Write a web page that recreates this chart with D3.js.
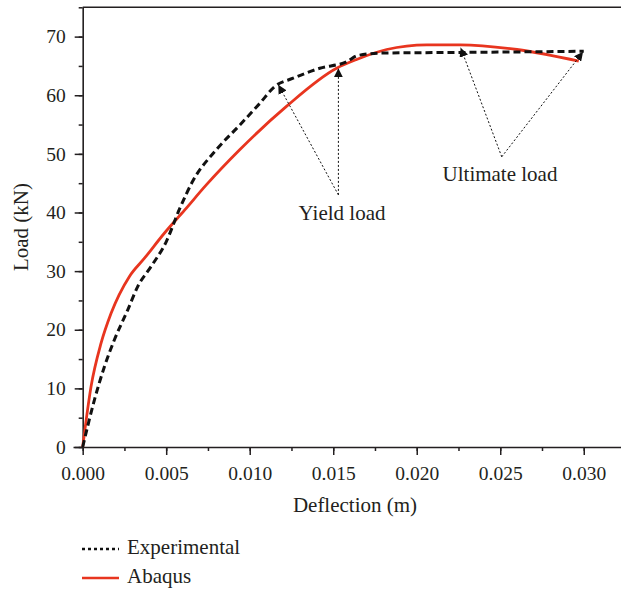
<!DOCTYPE html>
<html><head><meta charset="utf-8">
<script src="https://cdn.jsdelivr.net/npm/d3@7"></script>
<style>
html,body{margin:0;padding:0;background:#fff;}
svg{display:block;}
text{font-family:"Liberation Serif","Times New Roman",serif;fill:#231f20;}
</style></head>
<body>
<svg id="chart" width="621" height="590"></svg>
<script>
// Data (deflection in m, load in kN)
const expX = [0, 0.0007, 0.0013, 0.0019, 0.0027, 0.0033, 0.0041, 0.0050, 0.0058, 0.0066, 0.0080, 0.0094, 0.0106, 0.0115, 0.0126, 0.0142, 0.0158, 0.0165, 0.0180, 0.0226, 0.0300];
const expY = [0, 8.0, 13.7, 18.3, 23.4, 27.4, 30.8, 35.0, 40.6, 45.4, 50.7, 54.9, 58.6, 61.5, 62.9, 64.6, 65.7, 66.8, 67.2, 67.3, 67.5];
const abqX = [0, 0.0005, 0.0011, 0.0017, 0.0028, 0.0037, 0.0049, 0.0061, 0.0074, 0.0094, 0.0122, 0.0152, 0.0164, 0.0182, 0.0206, 0.0226, 0.0260, 0.0297];
const abqY = [0, 10.3, 17.7, 22.8, 29.1, 32.2, 36.5, 40.4, 44.7, 50.7, 58.1, 64.6, 66.1, 67.8, 68.6, 68.6, 67.8, 65.8];
const xTicks = [0, 0.005, 0.010, 0.015, 0.020, 0.025, 0.030];
const yTicks = [0, 10, 20, 30, 40, 50, 60, 70];
const seriesNames = ["Experimental", "Abaqus"];
// annotations: label, apex, arrow tips (data coords)
const annYield = {label: "Yield load", apex: [0.01531, 43.0], tips: [[0.01171, 61.8], [0.01531, 64.6]]};
const annUlt = {label: "Ultimate load", apex: [0.02509, 49.5], tips: [[0.02263, 68.1], [0.02996, 67.4]]};

const svg = d3.select("#chart");
const x = d3.scaleLinear().domain([-0.00058, 0.03223]).range([73, 621]);
const y = d3.scaleLinear().domain([0, 75]).range([447, 7.3]);
const red = "#e8351f";

// defs: arrowhead
svg.append("defs").append("marker")
  .attr("id", "arr").attr("viewBox", "0 0 10 10").attr("refX", 10).attr("refY", 5)
  .attr("markerWidth", 9).attr("markerHeight", 9).attr("markerUnits", "userSpaceOnUse")
  .attr("orient", "auto")
  .append("path").attr("d", "M0,0 L10,5 L0,10 Z").attr("fill", "#111");

// Axes
const xMinor = d3.range(0, 0.0321, 0.0025);
const yMinor = d3.range(0, 75.1, 5);
const gx = svg.append("g").attr("transform", `translate(0,${y(0)})`);
gx.call(d3.axisBottom(x).tickValues(xMinor).tickSize(4).tickFormat(""));
gx.call(g => g.select(".domain").remove());
svg.append("g").attr("transform", `translate(0,${y(0)})`)
  .call(d3.axisBottom(x).tickValues(xTicks).tickSize(8).tickPadding(11).tickFormat(d3.format(".3f")).tickSizeOuter(0));
const gy = svg.append("g").attr("transform", `translate(${x(0)},0)`);
gy.call(d3.axisLeft(y).tickValues(yMinor).tickSize(4).tickFormat(""));
gy.call(g => g.select(".domain").remove());
svg.append("g").attr("transform", `translate(${x(0)},0)`)
  .call(d3.axisLeft(y).tickValues(yTicks).tickSize(8).tickPadding(9).tickFormat(d3.format("d")).tickSizeOuter(0));
svg.selectAll(".tick line").attr("stroke", "#231f20").attr("stroke-width", 1.5);
svg.selectAll(".domain").attr("stroke", "#231f20").attr("stroke-width", 1.6);
svg.selectAll(".tick text").attr("font-size", 19.5).attr("font-family", "Liberation Serif").attr("fill", "#231f20");
// top line
svg.append("line").attr("x1", x(0)).attr("x2", 621).attr("y1", y(75)).attr("y2", y(75))
  .attr("stroke", "#231f20").attr("stroke-width", 1.6);

// Axis titles
svg.append("text").attr("x", 355).attr("y", 512).attr("text-anchor", "middle").attr("font-size", 21).text("Deflection (m)");
svg.append("text").attr("transform", "translate(28,227) rotate(-90)").attr("text-anchor", "middle").attr("font-size", 21).text("Load (kN)");

// Lines
const line = d3.line().x(d => x(d[0])).y(d => y(d[1])).curve(d3.curveMonotoneX);
const expData = expX.map((v, i) => [v, expY[i]]);
const abqData = abqX.map((v, i) => [v, abqY[i]]);
svg.append("path").datum(abqData).attr("d", line).attr("fill", "none")
  .attr("stroke", red).attr("stroke-width", 2.8).attr("stroke-linejoin", "round");
svg.append("path").datum(expData).attr("d", line).attr("fill", "none")
  .attr("stroke", "#111").attr("stroke-width", 3).attr("stroke-dasharray", "7,4");

// Annotations
function annotate(a, tx, ty) {
  a.tips.forEach(t => {
    svg.append("line").attr("x1", x(a.apex[0])).attr("y1", y(a.apex[1]))
      .attr("x2", x(t[0])).attr("y2", y(t[1]))
      .attr("stroke", "#111").attr("stroke-width", 1).attr("stroke-dasharray", "2,2")
      .attr("marker-end", "url(#arr)");
  });
  svg.append("text").attr("x", tx).attr("y", ty).attr("text-anchor", "middle").attr("font-size", 21).text(a.label);
}
annotate(annYield, 342, 220);
annotate(annUlt, 500, 181);

// Legend
const lg = svg.append("g");
lg.append("line").attr("x1", 82).attr("x2", 119).attr("y1", 549).attr("y2", 549)
  .attr("stroke", "#111").attr("stroke-width", 2.5).attr("stroke-dasharray", "3,3");
lg.append("text").attr("x", 127).attr("y", 554).attr("font-size", 21).text(seriesNames[0]);
lg.append("line").attr("x1", 82).attr("x2", 119).attr("y1", 578).attr("y2", 578)
  .attr("stroke", red).attr("stroke-width", 2.5);
lg.append("text").attr("x", 127).attr("y", 583).attr("font-size", 21).text(seriesNames[1]);
</script>
</body></html>
